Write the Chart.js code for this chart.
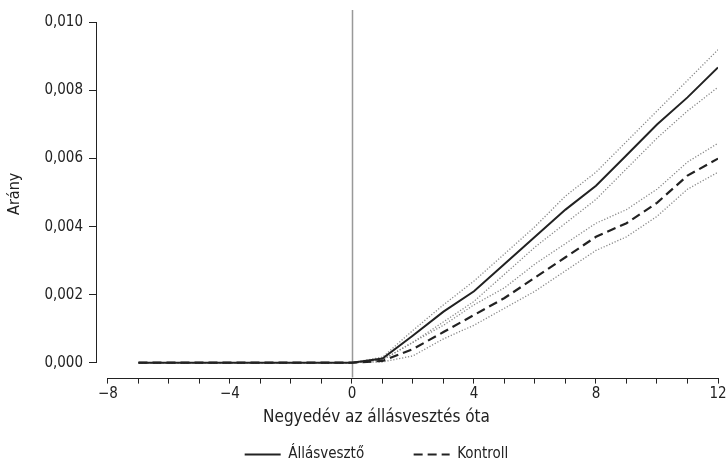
<!DOCTYPE html>
<html>
<head>
<meta charset="utf-8">
<script src="https://cdn.jsdelivr.net/npm/chart.js@4.4.0/dist/chart.umd.min.js"></script>
<style>
  html, body { margin: 0; padding: 0; background: #fff; }
  #wrap { width: 728px; height: 472px; }
</style>
</head>
<body>
<div id="wrap"><canvas id="graph1" width="728" height="472"></canvas></div>
<script>
// quarters since job loss
var quarters = [-7, -6, -5, -4, -3, -2, -1, 0, 1, 2, 3, 4, 5, 6, 7, 8, 9, 10, 11, 12];

// job losers (solid) and its confidence band
var loser   = [0, 0, 0, 0, 0, 0, 0, 0, 0.00012, 0.0008, 0.0015, 0.0021, 0.0029, 0.0037, 0.0045, 0.0052, 0.0061, 0.0070, 0.0078, 0.00868];
var loserHi = [0, 0, 0, 0, 0, 0, 0, 0, 0.00016, 0.00095, 0.0017, 0.0024, 0.0032, 0.0040, 0.0049, 0.0056, 0.0065, 0.0074, 0.0083, 0.0092];
var loserLo = [0, 0, 0, 0, 0, 0, 0, 0, 0.00008, 0.0006, 0.0012, 0.0018, 0.0026, 0.0034, 0.0041, 0.0048, 0.0057, 0.0066, 0.0074, 0.0081];

// control group (dashed) and its confidence band
var control   = [0, 0, 0, 0, 0, 0, 0, 0, 0.00005, 0.0004, 0.0009, 0.0014, 0.0019, 0.0025, 0.0031, 0.0037, 0.0041, 0.0047, 0.0055, 0.0060];
var controlHi = [0, 0, 0, 0, 0, 0, 0, 0, 0.00008, 0.0006, 0.0011, 0.0017, 0.0022, 0.0029, 0.0035, 0.0041, 0.0045, 0.0051, 0.0059, 0.00645];
var controlLo = [0, 0, 0, 0, 0, 0, 0, 0, 0.00002, 0.0002, 0.0007, 0.0011, 0.0016, 0.0021, 0.0027, 0.0033, 0.0037, 0.0043, 0.0051, 0.0056];

var xTicks = [-8, -7, -6, -5, -4, -3, -2, -1, 0, 1, 2, 3, 4, 5, 6, 7, 8, 9, 10, 11, 12];
var yTicks = [0, 0.002, 0.004, 0.006, 0.008, 0.010];
var seriesNames = ["Állásvesztő", "Kontroll"];

var FONT = "'DejaVu Sans Condensed', sans-serif";
var INK = '#222';

function pts(ys) {
  return quarters.map(function (q, i) { return { x: q, y: ys[i] }; });
}

// axis lines drawn apart from each other, plus the grey line at quarter 0
var axesPlugin = {
  id: 'axes',
  beforeDraw: function (chart) {
    // centre the legend and the bottom title on the whole figure, as in the original
    [chart.legend, chart.titleBlock].forEach(function (b) { if (b) { b.left = 25; b.right = 728; } });
    var lg = chart.legend;
    if (lg && !lg._moved) { lg.top += 8; lg.bottom += 8; lg._moved = true; }
  },
  beforeDatasetsDraw: function (chart) {
    var c = chart.ctx, xs = chart.scales.x, ys = chart.scales.y, a = chart.chartArea;
    c.save();
    c.strokeStyle = '#999';
    c.lineWidth = 1.5;
    var x0 = Math.round(xs.getPixelForValue(0)) + 0.5;
    c.beginPath(); c.moveTo(x0, a.top); c.lineTo(x0, a.bottom); c.stroke();
    c.strokeStyle = INK;
    c.lineWidth = 1;
    var lx = Math.round(a.left) - 0.5;
    c.beginPath();
    c.moveTo(lx, ys.getPixelForValue(yTicks[0]));
    c.lineTo(lx, ys.getPixelForValue(yTicks[yTicks.length - 1]));
    c.stroke();
    var by = Math.round(a.bottom) + 0.5;
    c.beginPath();
    c.moveTo(xs.getPixelForValue(xTicks[0]), by);
    c.lineTo(xs.getPixelForValue(xTicks[xTicks.length - 1]), by);
    c.stroke();
    c.restore();
  }
};

function ciSet(ys) {
  return { label: 'ci', data: pts(ys), borderColor: '#888', borderWidth: 1.3, borderDash: [1.2, 1.8], pointRadius: 0, order: 2 };
}

var ctx = document.getElementById('graph1').getContext('2d');
var chart = new Chart(ctx, {
    type: 'line',
    data: {
        datasets: [{
            label: seriesNames[0],
            data: pts(loser),
            borderColor: INK,
            borderWidth: 2,
            pointRadius: 0,
            order: 0
        }, {
            label: seriesNames[1],
            data: pts(control),
            borderColor: INK,
            borderWidth: 2.2,
            borderDash: [9, 5],
            pointRadius: 0,
            order: 1
        }, ciSet(loserHi), ciSet(loserLo), ciSet(controlHi), ciSet(controlLo)]
    },
    options: {
      responsive: false,
      animation: false,
      layout: { padding: { left: 0, right: 10, top: 10, bottom: 8 } },
      scales: {
        x: {
          type: 'linear',
          min: -8.36,
          max: 12,
          afterBuildTicks: function (s) { s.ticks = xTicks.map(function (v) { return { value: v }; }); },
          afterFit: function (s) { s.paddingRight = 0; },
          ticks: {
            autoSkip: false,
            maxRotation: 0,
            padding: 2,
            color: INK,
            font: { family: FONT, size: 15 },
            callback: function (v) { return v % 4 === 0 ? String(v).replace('-', '\u2212') : ''; }
          },
          grid: { drawOnChartArea: false, drawTicks: true, tickLength: 6, color: INK },
          border: { display: false }
        },
        y: {
          min: -0.00044,
          max: 0.01037,
          afterBuildTicks: function (s) { s.ticks = yTicks.map(function (v) { return { value: v }; }); },
          afterFit: function (s) { s.width = 97; s.paddingTop = 0; },
          ticks: {
            padding: 6,
            color: INK,
            font: { family: FONT, size: 15 },
            callback: function (v) { return v.toFixed(3).replace('.', ','); }
          },
          grid: { drawOnChartArea: false, drawTicks: true, tickLength: 8, color: INK },
          border: { display: false },
          title: { display: true, text: 'Arány', color: INK, font: { family: FONT, size: 16 }, padding: { top: 5, bottom: 0 } }
        }
      },
      plugins: {
        title: {
          display: true,
          position: 'bottom',
          weight: 500,
          text: 'Negyedév az állásvesztés óta',
          color: INK,
          font: { family: FONT, size: 17, weight: 'normal' },
          padding: { top: 2, bottom: 2 }
        },
        legend: {
          position: 'bottom',
          labels: {
            filter: function (item) { return item.text !== 'ci'; },
            generateLabels: function (ch) {
              var items = Chart.defaults.plugins.legend.labels.generateLabels(ch);
              items.forEach(function (it) {
                var ds = ch.data.datasets[it.datasetIndex];
                it.lineDash = ds.borderDash || [];
                it.lineWidth = ds.borderWidth;
                it.strokeStyle = ds.borderColor;
                if (it.text === seriesNames[0]) it.text += '\u2003\u2003\u2003';
              });
              return items;
            },
            usePointStyle: true,
            pointStyle: 'line',
            pointStyleWidth: 36,
            boxHeight: 15,
            padding: 9,
            color: INK,
            font: { family: FONT, size: 15 }
          }
        },
        tooltip: { enabled: false }
      }
    },
    plugins: [axesPlugin]
});
</script>
</body>
</html>
